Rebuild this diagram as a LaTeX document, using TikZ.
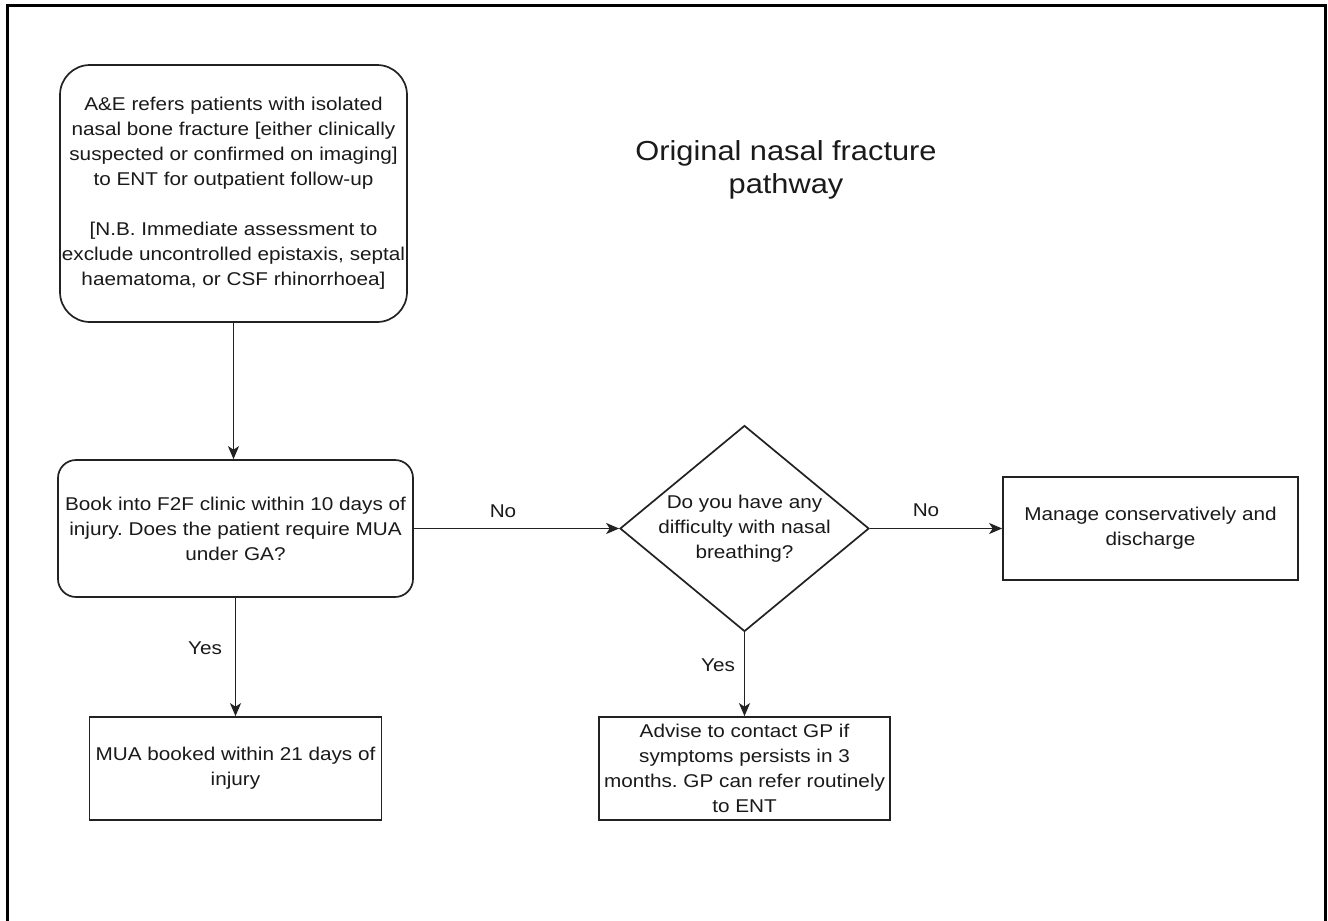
\documentclass[tikz,border=0pt]{standalone}
\usepackage{fontspec}
\setmainfont{Liberation Sans}[FakeStretch=1.12]
\usetikzlibrary{shapes.geometric,arrows.meta}
\definecolor{inkc}{HTML}{1A1A1A}
\definecolor{linec}{HTML}{222222}
\tikzset{
  body/.style={font=\fontsize{18.5}{25}\selectfont, text=inkc, align=center},
  boxbase/.style={body, draw=linec, line width=1.7pt, inner sep=0pt},
  roundbox/.style={boxbase, rectangle},
  plainbox/.style={boxbase, rectangle},
  decision/.style={draw=linec, line width=1.7pt, diamond, inner sep=0pt, minimum width=249pt, minimum height=206pt},
  flow/.style={draw=linec, line width=1.6pt, -{Stealth[length=13pt,width=11pt,inset=3.5pt]}},
  lbl/.style={body, inner sep=0pt},
}
\begin{document}
\frenchspacing
\begin{tikzpicture}[x=1pt,y=-1pt]
\useasboundingbox (0,0) rectangle (1328,921);
\fill[white] (0,0) rectangle (1328,921);
% outer frame (bottom edge is outside the picture)
\draw[line width=3pt, black] (7,921) -- (7,5) -- (1325,5) -- (1325,921);

% title
\node[font=\fontsize{27.5}{33}\selectfont, text=inkc, align=center] (title) at (786,170)
  {Original nasal fracture\\pathway};

% nodes
\node[roundbox, rounded corners=30pt, minimum width=347pt, minimum height=257pt] (refer) at (233.5,193.5)
  {A\&E refers patients with isolated\\nasal bone fracture [either clinically\\suspected or confirmed on imaging]\\to ENT for outpatient follow-up\\[25pt]
   [N.B. Immediate assessment to\\exclude uncontrolled epistaxis, septal\\haematoma, or CSF rhinorrhoea]};

\node[roundbox, rounded corners=18pt, minimum width=355pt, minimum height=137pt] (book) at (235.5,528.5)
  {Book into F2F clinic within 10 days of\\injury. Does the patient require MUA\\under GA?};

\node[plainbox, minimum width=292pt, minimum height=103pt] (mua) at (235.5,768.5)
  {MUA booked within 21 days of\\injury};

\node[decision, label={[body]center:{Do you have any\\difficulty with nasal\\breathing?}}] (breath) at (744.5,528.5) {};

\node[plainbox, minimum width=295pt, minimum height=103pt] (manage) at (1150.5,528.5)
  {Manage conservatively and\\discharge};

\node[plainbox, minimum width=291pt, minimum height=103pt] (advise) at (744.5,768.5)
  {Advise to contact GP if\\symptoms persists in 3\\months. GP can refer routinely\\to ENT};

% connectors
\draw[flow] (refer.south) -- (refer.south |- book.north);
\draw[flow] (book.south) -- (mua.north);
\draw[flow] (book.east) -- (breath.west);
\draw[flow] (breath.east) -- (manage.west);
\draw[flow] (breath.south) -- (advise.north);

% connector labels
\node[lbl] (yes1) at (205,648) {Yes};
\node[lbl] (no1) at (503,511) {No};
\node[lbl] (no2) at (926,510) {No};
\node[lbl] (yes2) at (718,665) {Yes};
\end{tikzpicture}
\end{document}
